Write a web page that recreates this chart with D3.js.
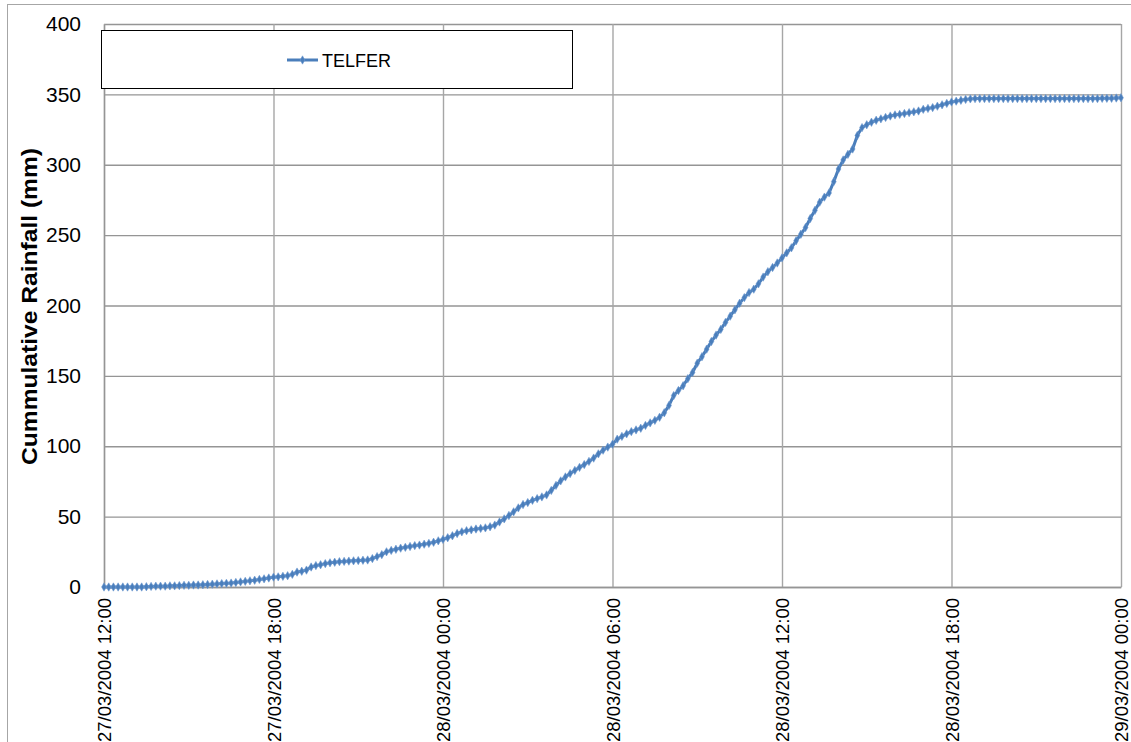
<!DOCTYPE html>
<html>
<head>
<meta charset="utf-8">
<script src="https://cdn.jsdelivr.net/npm/d3@7"></script>
<style>
  html, body { margin: 0; padding: 0; background: #fff; overflow: hidden; }
  svg { display: block; }
</style>
</head>
<body>
<svg id="chart" width="1131" height="742"></svg>
<script>
// ---------------- DATA ----------------
const seriesName = "TELFER";
const startTime = "27/03/2004 12:00";
const stepMinutes = 10;
// cumulative rainfall (mm), one reading every 10 minutes
const rainfall = [
  0,0,0,0,0,0,
  0,0,0,0.2,0.4,0.6,
  0.6,0.6,0.8,0.8,1.0,1.2,
  1.2,1.4,1.4,1.6,1.8,2.0,
  2.2,2.4,2.6,2.8,3.2,3.6,
  4.0,4.4,4.8,5.4,5.8,6.4,
  7.0,7.2,7.6,8.0,9.0,10.6,
  11.2,12.0,14.2,15.2,15.8,16.6,
  17.2,17.6,18.0,18.2,18.4,18.6,
  18.8,19.0,19.2,20.2,21.6,23.0,
  25.0,26.0,26.8,27.6,28.2,28.8,
  29.4,29.8,30.4,31.0,31.8,32.8,
  33.8,35.0,36.4,38.0,39.2,40.0,
  40.6,41.2,41.6,42.0,42.8,44.0,
  46.2,48.4,50.8,53.4,56.2,58.6,
  60.0,61.6,62.8,64.0,65.4,68.6,
  72.2,75.4,78.2,80.6,82.8,85.0,
  87.0,89.2,91.6,94.6,97.2,99.4,
  101.4,105.0,107.0,108.8,110.4,111.6,
  112.8,114.8,116.6,118.4,120.6,123.8,
  129.0,136.0,139.6,143.0,148.0,152.4,
  159.0,163.6,169.0,174.4,179.0,183.0,
  188.0,192.4,197.0,201.6,205.6,209.2,
  211.6,215.4,220.2,224.0,227.0,230.2,
  233.8,237.4,241.0,246.0,250.6,255.4,
  261.8,267.6,273.4,277.0,280.0,288.0,
  297.0,303.4,307.4,311.2,320.8,326.4,
  328.4,330.2,331.6,332.6,333.6,334.6,
  335.4,335.8,336.4,337.0,337.6,338.2,
  339.4,340.0,340.6,341.6,342.6,343.6,
  344.6,345.2,345.8,346.4,346.8,347.0,
  347.0,347.0,347.0,347.0,347.0,347.0,
  347.0,347.0,347.0,347.0,347.0,347.0,
  347.0,347.0,347.0,347.0,347.0,347.0,
  347.0,347.0,347.0,347.0,347.0,347.0,
  347.0,347.0,347.2,347.2,347.2,347.4,
  347.6
];
const xTickLabels = [
  "27/03/2004 12:00", "27/03/2004 18:00", "28/03/2004 00:00",
  "28/03/2004 06:00", "28/03/2004 12:00", "28/03/2004 18:00",
  "29/03/2004 00:00"
];
const yTicks = [0, 50, 100, 150, 200, 250, 300, 350, 400];
const yTitle = "Cummulative Rainfall (mm)";

// ---------------- CHART ----------------
const parse = d3.timeParse("%d/%m/%Y %H:%M");
const t0 = parse(startTime);
const data = rainfall.map((v, i) => ({ t: d3.timeMinute.offset(t0, i * stepMinutes), v }));
const xTicks = xTickLabels.map(parse);

const svg = d3.select("#chart");
const L = 104, R = 1121, T = 24, B = 587;
const color = "#4a7ebb";
const fontFam = "'Liberation Sans', Arial, sans-serif";

const x = d3.scaleTime().domain([xTicks[0], xTicks[xTicks.length - 1]]).range([L, R]);
const y = d3.scaleLinear().domain([0, 400]).range([B, T]);

// outer chart border
svg.append("rect").attr("x", 7.5).attr("y", 4.5).attr("width", 1130).attr("height", 800)
  .attr("fill", "#fff").attr("stroke", "#a6a6a6").attr("stroke-width", 1);

// gridlines
const gy = svg.append("g").attr("transform", `translate(${L},0)`)
  .call(d3.axisLeft(y).tickValues(yTicks).tickSize(-(R - L)).tickFormat(""));
gy.select(".domain").remove();
gy.selectAll("line").attr("stroke", "#959595").attr("stroke-width", 1.4);

const gx = svg.append("g").attr("transform", `translate(0,${T})`)
  .call(d3.axisBottom(x).tickValues(xTicks).tickSize(B - T).tickFormat(""));
gx.select(".domain").remove();
gx.selectAll("line").attr("stroke", "#a6a6a6").attr("stroke-width", 1.4);

// bottom axis
const ax = svg.append("g").attr("transform", `translate(0,${B})`)
  .call(d3.axisBottom(x).tickValues(xTicks).tickSize(0)
    .tickFormat((d, i) => xTickLabels[i]));
ax.select(".domain").attr("stroke", "#959595").attr("stroke-width", 1.4);
ax.selectAll("text")
  .attr("transform", "rotate(-90)")
  .attr("x", -11).attr("y", 0).attr("dy", "0.36em")
  .attr("text-anchor", "end")
  .attr("fill", "#000")
  .style("font-family", fontFam).style("font-size", "18.5px");

// left axis labels
const ay = svg.append("g").attr("transform", `translate(${L},0)`)
  .call(d3.axisLeft(y).tickValues(yTicks).tickSize(0).tickPadding(23));
ay.select(".domain").attr("stroke", "#959595").attr("stroke-width", 1.4);
ay.selectAll("text").attr("fill", "#000")
  .style("font-family", fontFam).style("font-size", "21px");

// y title
svg.append("text")
  .attr("transform", `translate(37,${(148 + 465) / 2}) rotate(-90)`)
  .attr("text-anchor", "middle")
  .attr("textLength", 317).attr("lengthAdjust", "spacingAndGlyphs")
  .style("font-family", fontFam).style("font-size", "22px").style("font-weight", "bold")
  .text(yTitle);

// series line
const line = d3.line().x(d => x(d.t)).y(d => y(d.v));
svg.append("path").datum(data)
  .attr("fill", "none").attr("stroke", color).attr("stroke-width", 3)
  .attr("stroke-linejoin", "round").attr("d", line);

// markers
const sym = d3.symbol().type(d3.symbolDiamond).size(20);
svg.append("g").selectAll("path").data(data).join("path")
  .attr("transform", d => `translate(${x(d.t)},${y(d.v)})`)
  .attr("d", sym).attr("fill", color).attr("stroke", "#6f9bd1").attr("stroke-width", 0.6);

// legend
const lg = svg.append("g");
lg.append("rect").attr("x", 101.5).attr("y", 30.5).attr("width", 471).attr("height", 58)
  .attr("fill", "#fff").attr("stroke", "#000").attr("stroke-width", 1);
lg.append("line").attr("x1", 287).attr("x2", 318).attr("y1", 60).attr("y2", 60)
  .attr("stroke", color).attr("stroke-width", 3);
lg.append("path").attr("transform", "translate(302.5,60)").attr("d", sym)
  .attr("fill", color).attr("stroke", "#6f9bd1").attr("stroke-width", 0.6);
lg.append("text").attr("x", 322).attr("y", 66.5)
  .style("font-family", fontFam).style("font-size", "18px")
  .text(seriesName);
</script>
</body>
</html>
